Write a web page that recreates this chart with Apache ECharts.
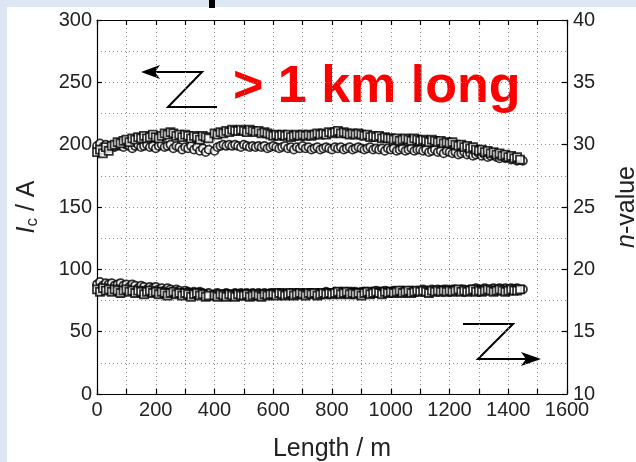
<!DOCTYPE html>
<html><head><meta charset="utf-8">
<script src="https://cdn.jsdelivr.net/npm/echarts@6/dist/echarts.min.js"></script>
<style>html,body{margin:0;padding:0;background:#fff}#c{width:636px;height:462px}</style>
</head><body><div id="c"></div>
<script>
// Length positions (m)
const lengths = [0,10,20,30,40,50,60,70,80,90,100,110,120,130,140,150,160,170,180,190,200,210,220,230,240,250,260,270,280,290,300,310,320,330,340,350,360,370,380,390,400,410,420,430,440,450,460,470,480,490,500,510,520,530,540,550,560,570,580,590,600,610,620,630,640,650,660,670,680,690,700,710,720,730,740,750,760,770,780,790,800,810,820,830,840,850,860,870,880,890,900,910,920,930,940,950,960,970,980,990,1000,1010,1020,1030,1040,1050,1060,1070,1080,1090,1100,1110,1120,1130,1140,1150,1160,1170,1180,1190,1200,1210,1220,1230,1240,1250,1260,1270,1280,1290,1300,1310,1320,1330,1340,1350,1360,1370,1380,1390,1400,1410,1420,1430,1440,1450];
// Ic (A) — squares
const icSquares = [194,196,193,198,195,199,200,202,201,203, 204,202,205,204,206,205,207,205,206,208, 206,205,207,209,208,210,209,207,208,206, 208,207,205,207,206,204,207,206,205,null, 209,208,210,209,211,210,212,211,211,212, 211,210,212,211,210,211,209,210,209,208, 207,208,207,208,207,208,206,207,208,207, 208,207,208,207,208,209,208,209,208,210, 209,210,211,209,210,209,208,209,208,209, 208,207,208,206,207,206,207,205,206,205, 205,204,205,203,204,205,204,203,205,204, 203,204,203,202,204,203,202,203,201,202, 201,202,200,199,200,198,199,197,198,196, 195,196,194,195,193,194,192,193,191,192, 190,191,189,190,188,null];
// Ic (A) — circles
const icCircles = [199,201,198,200,197,199,198,200,199,198, 200,199,197,199,200,198,199,200,198,199, 197,199,200,198,199,200,197,199,198,196, 198,197,199,196,198,195,197,194,196,null, 195,198,199,200,199,200,199,200,199,198, 200,199,198,199,198,199,198,199,197,198, 199,198,197,198,199,197,198,196,198,197, 199,197,198,196,197,198,196,197,198,197, 196,198,197,198,196,197,198,196,197,198, 197,196,197,198,196,197,196,197,195,197, 196,197,195,196,197,195,196,197,195,196, 196,195,196,194,195,196,194,195,193,195, 194,193,194,192,193,194,192,193,191,192, 193,191,192,190,191,192,190,189,191,189, 190,188,189,187,188,187];
// n-value — squares
const nSquares = [18.4,18.2,18.5,18.3,18.4,18.2,18.4,18.3,18.1,18.3, 18.4,18.2,18.3,18.1,18.3,18.2,18.0,18.2,18.3,18.1, 18.2,18.0,18.2,18.1,17.9,18.1,18.2,18.0,18.1,17.9, 18.1,18.0,17.8,18.0,18.1,17.9,18.0,17.8,17.9,null, 17.9,17.8,18.0,17.9,17.8,18.0,17.9,17.8,18.0,17.9, 17.9,18.0,17.8,17.9,18.0,17.9,17.8,18.0,17.9,18.0, 18.0,17.9,18.1,18.0,17.9,18.0,18.1,17.9,18.0,18.1, 18.0,17.9,18.1,18.0,18.1,17.9,18.0,18.1,18.0,18.1, 18.0,18.1,18.2,18.0,18.1,18.2,18.0,18.1,18.0,18.1, 17.9,18.1,18.2,18.0,18.1,18.2,18.1,18.0,18.2,18.1, 18.2,18.1,18.2,18.3,18.1,18.2,18.3,18.1,18.2,18.3, 18.2,18.3,18.2,18.1,18.3,18.2,18.3,18.2,18.3,18.2, 18.3,18.2,18.3,18.4,18.2,18.3,18.2,18.3,18.4,18.2, 18.3,18.2,18.3,18.4,18.3,18.2,18.3,18.4,18.3,18.2, 18.3,18.4,18.3,18.3,18.4,null];
// n-value — circles
const nCircles = [18.8,19.0,18.7,18.9,18.8,18.9,18.7,18.8,18.9,18.7, 18.8,18.6,18.8,18.7,18.5,18.7,18.6,18.4,18.6,18.5, 18.6,18.4,18.5,18.3,18.5,18.4,18.2,18.4,18.3,18.1, 18.3,18.2,18.1,18.2,18.0,18.2,18.1,17.9,18.1,null, 18.0,18.1,17.9,18.0,18.1,18.0,17.9,18.1,18.0,18.1, 18.0,18.1,18.0,18.1,17.9,18.1,18.0,18.1,18.0,18.1, 18.1,18.0,18.1,18.0,18.1,18.0,18.1,18.0,18.1,18.0, 18.1,18.0,18.1,18.1,18.0,18.1,18.0,18.1,18.2,18.1, 18.1,18.2,18.1,18.2,18.1,18.2,18.1,18.2,18.2,18.1, 18.2,18.2,18.2,18.1,18.2,18.3,18.2,18.2,18.3,18.2, 18.2,18.3,18.2,18.3,18.3,18.2,18.3,18.3,18.2,18.3, 18.3,18.4,18.3,18.3,18.4,18.3,18.4,18.3,18.4,18.4, 18.3,18.4,18.4,18.3,18.4,18.4,18.3,18.4,18.4,18.5, 18.4,18.4,18.5,18.4,18.4,18.5,18.4,18.5,18.4,18.5, 18.4,18.5,18.4,18.5,18.4,18.4];

const FONT = '"Liberation Sans", Arial, sans-serif';
const pair = v => lengths.map((x,i)=>[x, v[i]]);
const grid = {type:[1,3], color:'#8a8a8a', width:1};
const blk = {color:'#000', width:1.2};

const chart = echarts.init(document.getElementById('c'), null, {renderer:'canvas'});
const sq = {type:'scatter', symbol:'rect', symbolSize:8, itemStyle:{color:'#fff', borderColor:'#000', borderWidth:1.8}};
const ci = {type:'scatter', symbol:'circle', symbolSize:8, itemStyle:{color:'#fff', borderColor:'#000', borderWidth:1.8}};

chart.setOption({
  backgroundColor:'#fff',
  animation:false,
  grid:{left:97, right:69, top:20, bottom:68, outerBoundsMode:'none', containLabel:false},
  xAxis:[{
    type:'value', min:0, max:1600, interval:200, position:'bottom',
    name:'Length / m', nameLocation:'middle', nameGap:43,
    nameTextStyle:{fontFamily:FONT, fontSize:25, color:'#222'},
    axisLine:{show:true, onZero:false, lineStyle:blk},
    axisTick:{show:true, inside:true, length:5, lineStyle:blk},
    minorTick:{show:true, splitNumber:2, length:5, lineStyle:blk},
    axisLabel:{fontFamily:FONT, fontSize:20, color:'#222', margin:6, formatter:v=>String(v)},
    splitLine:{show:true, lineStyle:grid},
    minorSplitLine:{show:true, lineStyle:grid}
  },{
    type:'value', min:0, max:1600, interval:200, position:'top',
    axisLine:{show:true, onZero:false, lineStyle:blk},
    axisTick:{show:true, inside:true, length:5, lineStyle:blk},
    minorTick:{show:true, splitNumber:2, length:5, lineStyle:blk},
    axisLabel:{show:false}, splitLine:{show:false}
  }],
  yAxis:[{
    type:'value', min:0, max:300, interval:50, position:'left',
    name:'{i|I}{s|c}{n| / A}', nameLocation:'middle', nameGap:56, nameRotate:90,
    nameTextStyle:{rich:{
      i:{fontFamily:FONT, fontSize:25, fontStyle:'italic', color:'#222'},
      s:{fontFamily:FONT, fontSize:17, color:'#222', verticalAlign:'bottom', padding:[10,0,0,0]},
      n:{fontFamily:FONT, fontSize:25, color:'#222'}}},
    axisLine:{show:true, onZero:false, lineStyle:blk},
    axisTick:{show:true, inside:true, length:5, lineStyle:blk},
    axisLabel:{fontFamily:FONT, fontSize:20, color:'#222', margin:5},
    splitLine:{show:true, lineStyle:grid},
    minorSplitLine:{show:true, lineStyle:grid},
    minorTick:{show:false, splitNumber:2}
  },{
    type:'value', min:10, max:40, interval:5, position:'right',
    name:'{i|n}{n|-value}', nameLocation:'middle', nameGap:48, nameRotate:90,
    nameTextStyle:{rich:{
      i:{fontFamily:FONT, fontSize:25, fontStyle:'italic', color:'#222'},
      n:{fontFamily:FONT, fontSize:25, color:'#222'}}},
    axisLine:{show:true, onZero:false, lineStyle:blk},
    axisTick:{show:true, inside:true, length:5, lineStyle:blk},
    axisLabel:{fontFamily:FONT, fontSize:20, color:'#222', margin:6},
    splitLine:{show:false}
  }],
  series:[
    Object.assign({name:'Ic circles', xAxisIndex:0, yAxisIndex:0, data:pair(icCircles)}, ci),
    Object.assign({name:'Ic squares', xAxisIndex:0, yAxisIndex:0, data:pair(icSquares)}, sq),
    Object.assign({name:'n circles', xAxisIndex:0, yAxisIndex:1, data:pair(nCircles)}, ci),
    Object.assign({name:'n squares', xAxisIndex:0, yAxisIndex:1, data:pair(nSquares)}, sq)
  ],
  graphic:[
    {type:'rect', shape:{x:0,y:0,width:636,height:7}, style:{fill:'#dce7f3'}, silent:true},
    {type:'rect', shape:{x:0,y:0,width:7,height:462}, style:{fill:'#dce7f3'}, silent:true},
    {type:'rect', shape:{x:209,y:0,width:6,height:8}, style:{fill:'#000'}, silent:true},
    {type:'text', left:233, top:62, style:{text:'> 1 km long', fontFamily:FONT, fontSize:52, fontWeight:'bold', fill:'#ff0000'}},
    {type:'polyline', shape:{points:[[150,72],[202,72],[168,107],[217,107]]}, style:{stroke:'#000', lineWidth:2, fill:null}},
    {type:'polygon', shape:{points:[[141,72],[160,65],[155,72],[160,79]]}, style:{fill:'#000'}},
    {type:'polyline', shape:{points:[[463,324],[513,324],[478,359],[532,359]]}, style:{stroke:'#000', lineWidth:2, fill:null}},
    {type:'polygon', shape:{points:[[541,359],[521,352],[526,359],[521,366]]}, style:{fill:'#000'}}
  ]
});
</script>
</body></html>
